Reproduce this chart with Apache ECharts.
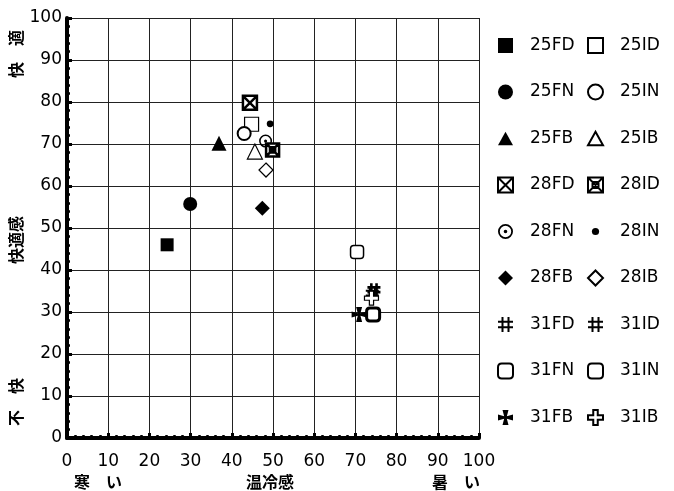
<!DOCTYPE html>
<html><head><meta charset="utf-8">
<script src="https://cdn.jsdelivr.net/npm/echarts@6/dist/echarts.min.js"></script>
<style>html,body{margin:0;padding:0;background:#fff}#c{width:674px;height:491px}</style>
</head><body><div id="c"></div>
<script>
// ---- data ----
const seriesNames = ['25FD','25FN','25FB','28FD','28FN','28FB','31FD','31FN','31FB',
                     '25ID','25IN','25IB','28ID','28IN','28IB','31ID','31IN','31IB'];
const xValues = [24.3, 29.9, 36.9, 44.4, 48.2, 47.4, 74.5, 74.3, 70.9,
                 44.8, 43.0, 45.6, 49.9, 49.3, 48.3, 74.1, 70.4, 73.9];
const yValues = [46.0, 55.7, 70.2, 79.8, 70.7, 54.7, 35.3, 29.4, 29.4,
                 74.7, 72.5, 68.2, 68.6, 74.8, 63.8, 34.5, 44.3, 33.3];
const tickLabels = ['0','10','20','30','40','50','60','70','80','90','100'];
const legendLeft = seriesNames.slice(0, 9);
const legendRight = seriesNames.slice(9);

// ---- symbol styles ----
const W = '#fff', K = '#000';
const P = {
  boxX: 'path://M0 0H10V10H0Z M0 0L10 10 M10 0L0 10',
  boxXin: 'path://M0 0H10V10H0Z M0 0L10 10 M10 0L0 10 M3 3H7V7H3Z',
  ringDot: 'path://M0 5A5 5 0 1 1 10 5A5 5 0 1 1 0 5Z M1.2 5A3.8 3.8 0 1 0 8.8 5A3.8 3.8 0 1 0 1.2 5Z M3.8 5A1.2 1.2 0 1 1 6.2 5A1.2 1.2 0 1 1 3.8 5Z',
  hash: 'path://M3 0V10 M7 0V10 M0 3.2H10 M0 6.8H10',
  flare: 'path://M3 0H7L5.9 4.1L10 3V7L5.9 5.9L7 10H3L4.1 5.9L0 7V3L4.1 4.1Z',
  plus: 'path://M3.5 0H6.5V3.5H10V6.5H6.5V10H3.5V6.5H0V3.5H3.5Z',
  rect: 'path://M0 0H10V10H0Z',
  tri: 'path://M5 0L10 9H0Z',
  dia: 'path://M5 0L10 5L5 10L0 5Z',
  rrect: 'path://M2.5 0H7.5Q10 0 10 2.5V7.5Q10 10 7.5 10H2.5Q0 10 0 7.5V2.5Q0 0 2.5 0Z',
  dot: 'path://M0 0M10 10M2.6 5A2.4 2.4 0 1 1 7.4 5A2.4 2.4 0 1 1 2.6 5Z'
};
const styles = {
  '25FD': {symbol:P.rect, size:13, item:{color:K}},
  '25FN': {symbol:'circle', size:14, item:{color:K}},
  '25FB': {symbol:P.tri, size:15, item:{color:K}},
  '28FD': {symbol:P.boxX, size:14, item:{color:W, borderColor:K, borderWidth:2.5}},
  '28FN': {symbol:P.ringDot, size:13, item:{color:K}},
  '28FB': {symbol:P.dia, size:15, item:{color:K}},
  '31FD': {symbol:P.hash, size:13, item:{color:W, borderColor:K, borderWidth:2.6}},
  '31FN': {symbol:P.rrect, size:13, item:{color:W, borderColor:K, borderWidth:3}},
  '31FB': {symbol:P.flare, size:15, item:{color:K}},
  '25ID': {symbol:P.rect, size:14, item:{color:W, borderColor:K, borderWidth:1.2}},
  '25IN': {symbol:'circle', size:13, item:{color:W, borderColor:K, borderWidth:2}},
  '25IB': {symbol:P.tri, size:15, item:{color:W, borderColor:K, borderWidth:1.2}},
  '28ID': {symbol:P.boxXin, size:13, item:{color:W, borderColor:K, borderWidth:2.5}},
  '28IN': {symbol:P.dot, size:14, item:{color:K}},
  '28IB': {symbol:P.dia, size:14, item:{color:W, borderColor:K, borderWidth:1.2}},
  '31ID': {symbol:P.hash, size:13, item:{color:W, borderColor:K, borderWidth:1.8}},
  '31IN': {symbol:P.rrect, size:13, item:{color:W, borderColor:K, borderWidth:1.5}},
  '31IB': {symbol:P.plus, size:14, item:{color:W, borderColor:K, borderWidth:1.2}}
};

const series = seriesNames.map((n, i) => ({
  name: n, type: 'scatter',
  symbol: styles[n].symbol, symbolSize: styles[n].size,
  itemStyle: Object.assign({opacity:1}, styles[n].item),
  data: [[xValues[i], yValues[i]]],
  z: 3
}));

const FONT = 'DejaVu Sans';
const axisCommon = {
  type: 'value', min: 0, max: 100, interval: 10,
  axisLine: {show:true, onZero:false, lineStyle:{color:K, width:4}},
  axisTick: {show:true, inside:true, length:5, lineStyle:{color:K, width:3}},
  minorTick: {show:true, splitNumber:5, length:3, lineStyle:{color:K, width:2.5}},
  splitLine: {show:true, lineStyle:{color:'#222', width:1}},
  axisLabel: {color:K, fontSize:17, fontFamily:FONT,
              formatter: v => tickLabels[Math.round(v/10)]}
};

const legendCommon = {
  orient:'vertical', top: 32, itemWidth: 15, itemHeight: 15, itemGap: 29.5,
  textStyle:{fontSize:17, fontFamily:FONT, color:K, padding:[0,0,0,12]},
  selectedMode:false
};

const chart = echarts.init(document.getElementById('c'), null, {renderer:'canvas'});
const jp = {fontFamily:'Noto Sans CJK JP', fontSize:16, fontWeight:'bold', fill:K, textAlign:'center', textVerticalAlign:'middle'};
chart.setOption({
  animation:false,
  backgroundColor:'#fff',
  grid:{left:67, right:195, top:18, bottom:53, containLabel:false},
  xAxis: Object.assign({}, axisCommon, {axisLabel: Object.assign({}, axisCommon.axisLabel, {margin:15})}),
  yAxis: Object.assign({}, axisCommon, {axisLabel: Object.assign({}, axisCommon.axisLabel, {margin:5})}),
  legend: [
    Object.assign({}, legendCommon, {left: 492, data: legendLeft}),
    Object.assign({}, legendCommon, {left: 582, data: legendRight})
  ],
  graphic: [
    {type:'text', x:98, y:482, style:Object.assign({text:'寒　い'}, jp)},
    {type:'text', x:270, y:482, style:Object.assign({text:'温冷感'}, jp)},
    {type:'text', x:456, y:482, style:Object.assign({text:'暑　い'}, jp)},
    {type:'text', x:16, y:54, rotation:Math.PI/2, style:Object.assign({text:'快　適'}, jp)},
    {type:'text', x:16, y:240, rotation:Math.PI/2, style:Object.assign({text:'快適感'}, jp)},
    {type:'text', x:16, y:402, rotation:Math.PI/2, style:Object.assign({text:'不　快'}, jp)}
  ],
  series: series
});
</script></body></html>
